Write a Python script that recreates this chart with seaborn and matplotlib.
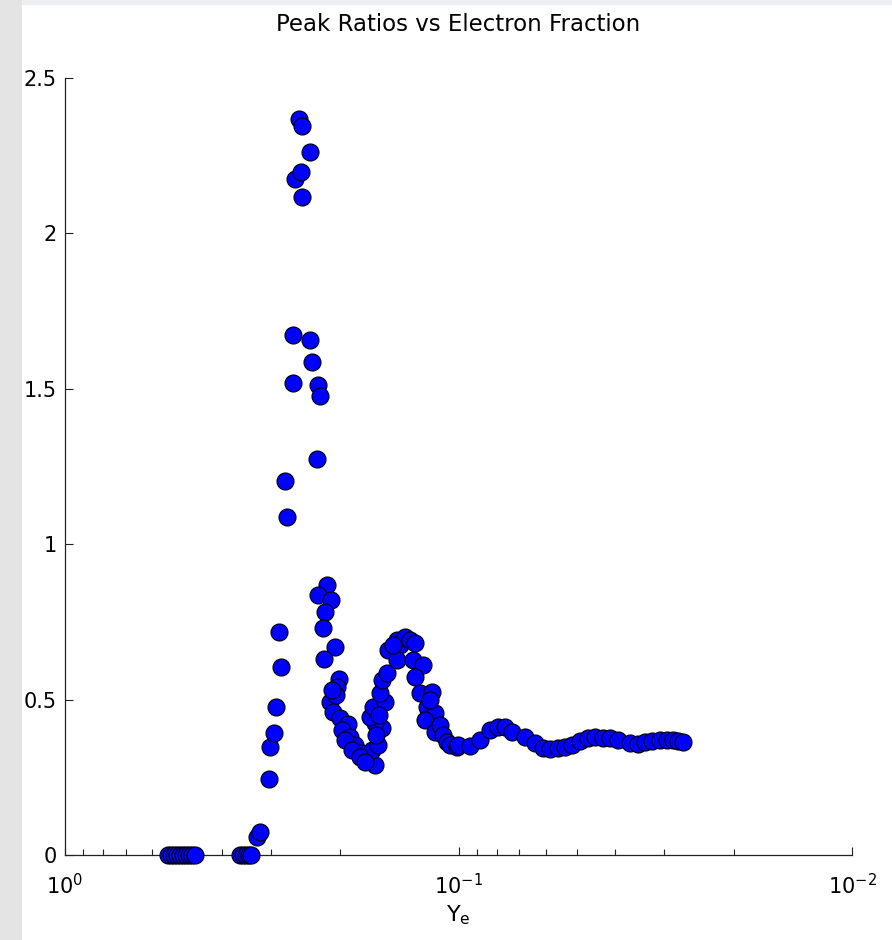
import matplotlib
matplotlib.use("Agg")
import matplotlib.pyplot as plt
from matplotlib.patches import Rectangle
from matplotlib.ticker import LogLocator
import seaborn as sns
import pandas as pd

# Electron fraction Y_e and the corresponding peak ratio
ye = [
    0.547, 0.538, 0.529, 0.519, 0.510, 0.502, 0.493, 0.485, 0.476, 0.467,
    0.359, 0.353, 0.347, 0.341, 0.337,
    0.325, 0.319, 0.303, 0.3013, 0.294, 0.291, 0.286, 0.283, 0.273, 0.276,
    0.263, 0.263, 0.260, 0.2513, 0.2498, 0.254, 0.2498, 0.2384,
    0.2384, 0.2356, 0.2275, 0.2249, 0.2288,
    0.2158, 0.2275, 0.2109, 0.2184, 0.2209, 0.2060, 0.2196, 0.2012, 0.2036,
    0.2121, 0.2084, 0.2000, 0.1909, 0.1977, 0.1887, 0.1832, 0.1758, 0.1698,
    0.1630, 0.1659, 0.1944, 0.1865, 0.1779, 0.1728, 0.2048, 0.2096,
    0.1564, 0.1630, 0.1679, 0.1649, 0.1537, 0.1583, 0.1564, 0.1519, 0.1510,
    0.1602, 0.1621, 0.1592,
    0.1433, 0.1408, 0.1433, 0.1368, 0.1328, 0.1467,
    0.1290, 0.1305, 0.1231, 0.1290, 0.1253, 0.1168, 0.1202, 0.1147, 0.1216,
    0.1147, 0.1181, 0.1114, 0.1095, 0.1070, 0.1051, 0.1009,
    0.1003, 0.0935, 0.0882, 0.0832, 0.0794, 0.0762, 0.0731, 0.0678, 0.0639,
    0.0610, 0.0585, 0.0559, 0.0536, 0.0515, 0.0491, 0.0469, 0.0450, 0.0429,
    0.0412, 0.0393, 0.0366, 0.0350, 0.0336, 0.0322, 0.0308, 0.0295, 0.0285,
    0.0277, 0.0269,
]
peak_ratio = [
    0, 0, 0, 0, 0, 0, 0, 0, 0, 0,
    0, 0, 0, 0, 0,
    0.058, 0.074, 0.245, 0.347, 0.393, 0.476, 0.718, 0.605, 1.088, 1.203,
    1.519, 1.673, 2.175, 2.198, 2.117, 2.368, 2.346, 2.262,
    1.657, 1.586, 1.512, 1.477, 1.274,
    0.869, 0.837, 0.820, 0.782, 0.730, 0.669, 0.631, 0.566, 0.541,
    0.492, 0.460, 0.441, 0.421, 0.402, 0.380, 0.354, 0.328, 0.306,
    0.290, 0.338, 0.370, 0.338, 0.315, 0.299, 0.515, 0.531,
    0.409, 0.425, 0.444, 0.476, 0.492, 0.521, 0.563, 0.586, 0.660,
    0.354, 0.386, 0.450,
    0.692, 0.676, 0.627, 0.701, 0.692, 0.676,
    0.682, 0.627, 0.611, 0.573, 0.521, 0.524, 0.476, 0.457, 0.434,
    0.396, 0.499, 0.418, 0.386, 0.364, 0.354, 0.347,
    0.354, 0.351, 0.370, 0.402, 0.412, 0.412, 0.396, 0.380, 0.360,
    0.344, 0.341, 0.344, 0.347, 0.354, 0.367, 0.376, 0.380, 0.376,
    0.376, 0.370, 0.360, 0.357, 0.364, 0.367, 0.370, 0.370, 0.370,
    0.367, 0.364,
]
y_ticks = [0, 0.5, 1, 1.5, 2, 2.5]
y_tick_labels = ["0", "0.5", "1", "1.5", "2", "2.5"]

df = pd.DataFrame({"Ye": ye, "ratio": peak_ratio})

sns.set_style("white")
plt.rcParams["font.family"] = ["DejaVu Sans"]
plt.rcParams["mathtext.default"] = "regular"
plt.rcParams["text.color"] = "black"

fig = plt.figure(figsize=(8.92, 9.40), dpi=100)
ax = fig.add_axes([65 / 892, 85 / 940, 787 / 892, 777 / 940])

sns.scatterplot(data=df, x="Ye", y="ratio", ax=ax, s=150, color="#0000ff",
                edgecolor="black", linewidth=0.8, clip_on=False, zorder=3,
                legend=False)

ax.set_xscale("log")
ax.set_xlim(1, 0.01)
ax.set_ylim(0, 2.5)
ax.set_yticks(y_ticks)
ax.set_yticklabels(y_tick_labels)
ax.xaxis.set_major_locator(LogLocator(base=10, numticks=5))
ax.xaxis.set_minor_locator(LogLocator(base=10, subs=range(2, 10), numticks=20))

for side in ("top", "right"):
    ax.spines[side].set_visible(False)
for side in ("left", "bottom"):
    ax.spines[side].set_color("#222222")
    ax.spines[side].set_linewidth(0.9)

ax.tick_params(axis="both", which="both", left=True, bottom=True,
               direction="in", color="#222222", width=0.8)
ax.tick_params(axis="both", which="major", length=6, labelsize=15,
               labelcolor="black")
ax.tick_params(axis="x", which="minor", length=4)
ax.tick_params(axis="y", which="major", pad=6)
ax.tick_params(axis="x", which="major", pad=13)

ax.set_xlabel("$Y_e$", fontsize=16, labelpad=4, color="black")
ax.set_ylabel("")
ax.set_title("Peak Ratios vs Electron Fraction", fontsize=16.5, pad=34,
             color="black")

# page frame around the plot
fig.patches.append(Rectangle((0, 0), 22 / 892, 1, transform=fig.transFigure,
                             facecolor="#e4e4e4", edgecolor="none", zorder=10))
fig.patches.append(Rectangle((22 / 892, 1 - 5 / 940), 1, 5 / 940,
                             transform=fig.transFigure, facecolor="#eceef3",
                             edgecolor="none", zorder=10))

fig.savefig("out.png", dpi=100)
